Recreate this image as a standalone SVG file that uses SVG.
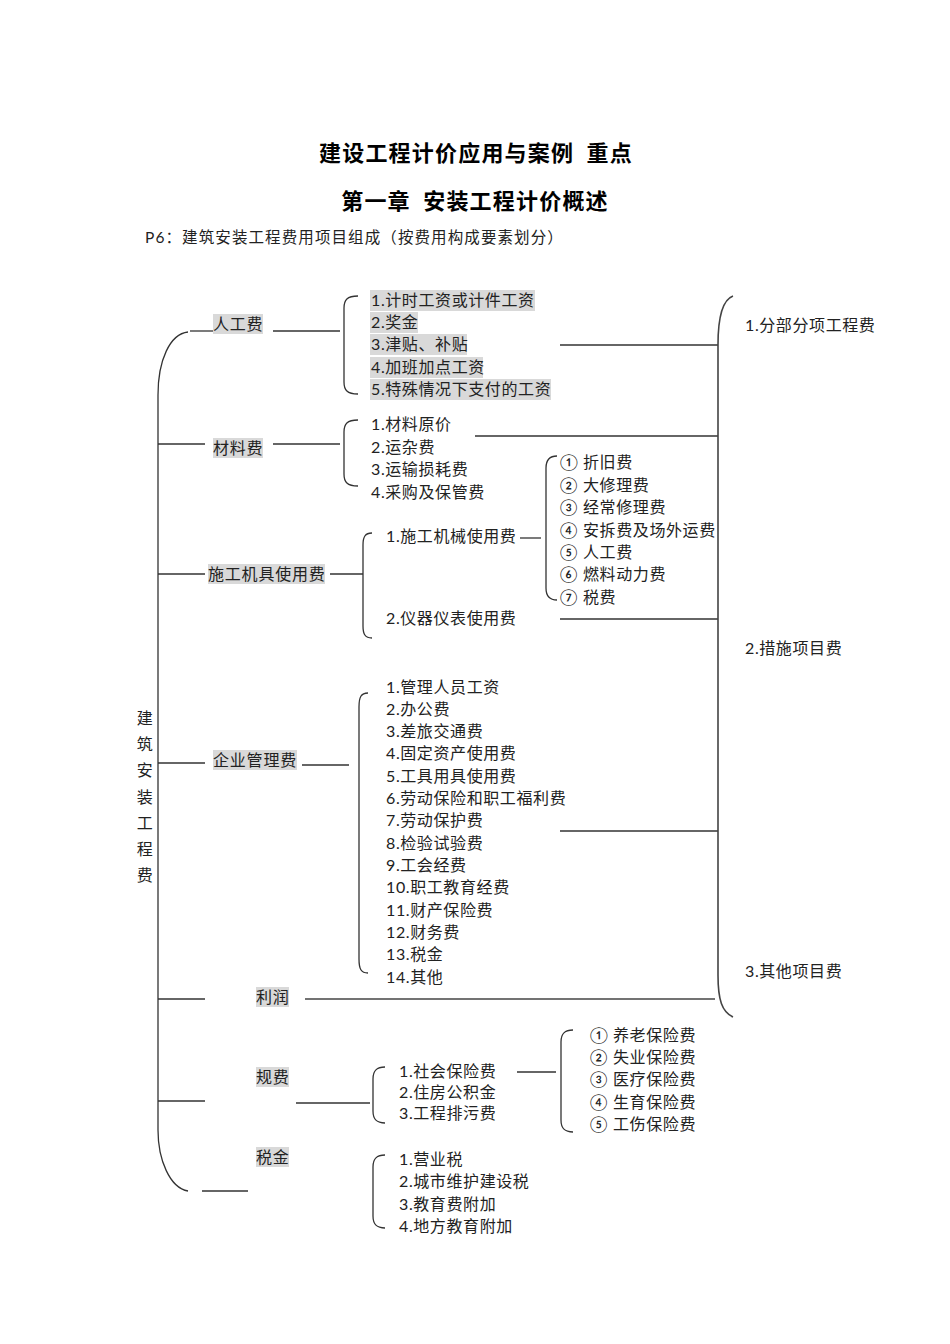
<svg xmlns="http://www.w3.org/2000/svg" width="950" height="1344" viewBox="0 0 950 1344">
<style>
.t{font-family:Lato,"Noto Sans CJK SC",sans-serif;font-size:16px;fill:#222;letter-spacing:0.6px}
.lb{font-family:Lato,"Noto Sans CJK SC",sans-serif;font-size:16px;fill:#222;letter-spacing:0.8px}
.h{font-family:"Noto Sans CJK SC",sans-serif;font-size:22px;font-weight:700;fill:#000;letter-spacing:1.2px}
.sub{font-family:Lato,"Noto Sans CJK SC",sans-serif;font-size:15.5px;fill:#222;letter-spacing:1.1px}
.hl{fill:#d9d9d9}
.ln{stroke:#333;stroke-width:1.3;fill:none}
.bl{stroke:#444;stroke-width:1.6;fill:none}
</style>
<rect width="950" height="1344" fill="#fff"/>
<g id="titles">
<text class="h" x="476" y="161" text-anchor="middle">建设工程计价应用与案例&#160;&#160;重点</text>
<text class="h" x="475" y="209" text-anchor="middle">第一章&#160;&#160;安装工程计价概述</text>
<text class="sub" x="145" y="243">P6：建筑安装工程费用项目组成（按费用构成要素划分）</text>
</g>
<g id="root">
<text class="t" x="145" text-anchor="middle"><tspan x="145" y="724">建</tspan><tspan x="145" y="750">筑</tspan><tspan x="145" y="776">安</tspan><tspan x="145" y="803">装</tspan><tspan x="145" y="829">工</tspan><tspan x="145" y="855">程</tspan><tspan x="145" y="881">费</tspan></text>
</g>
<g id="connectors">
<path class="ln" d="M188,332 C170,334 158,360 158,395 L158,1130 C158,1160 170,1188 188,1191"/>
<line class="ln" x1="190" y1="331" x2="213" y2="331"/>
<line class="ln" x1="273" y1="331" x2="340" y2="331"/>
<line class="ln" x1="158" y1="444" x2="205" y2="444"/>
<line class="ln" x1="273" y1="444" x2="340" y2="444"/>
<line class="ln" x1="158" y1="574" x2="205" y2="574"/>
<line class="ln" x1="330" y1="574" x2="363" y2="574"/>
<line class="ln" x1="158" y1="763" x2="205" y2="763"/>
<line class="ln" x1="302" y1="765" x2="349" y2="765"/>
<line class="ln" x1="158" y1="999" x2="205" y2="999"/>
<line class="bl" x1="305" y1="999" x2="715" y2="999"/>
<line class="ln" x1="158" y1="1101" x2="205" y2="1101"/>
<line class="ln" x1="296" y1="1103" x2="370" y2="1103"/>
<line class="ln" x1="202" y1="1191" x2="248" y2="1191"/>
<line class="ln" x1="520" y1="538" x2="541" y2="538"/>
<line class="ln" x1="517" y1="1072" x2="556" y2="1072"/>
<line class="ln" x1="560" y1="345" x2="718" y2="345"/>
<line class="ln" x1="475" y1="436" x2="718" y2="436"/>
<line class="ln" x1="560" y1="619" x2="718" y2="619"/>
<line class="ln" x1="560" y1="831" x2="718" y2="831"/>
<path class="bl" d="M733,296 C722,300 718,320 718,345 L718,975 C718,1000 722,1012 733,1017"/>
<path class="ln" d="M358,296 C347,296 344,300 344,308 L344,382 C344,390 347,394 358,394"/>
<path class="ln" d="M358,420 C347,420 344,424 344,432 L344,474 C344,482 347,486 358,486"/>
<path class="ln" d="M372,533 C365,533 363,537 363,545 L363,626 C363,634 365,638 372,638"/>
<path class="ln" d="M557,456 C549,456 546,460 546,468 L546,588 C546,596 549,600 557,600"/>
<path class="ln" d="M368,693 C361,693 359,697 359,707 L359,959 C359,969 361,973 368,973"/>
<path class="ln" d="M385,1067 C376,1067 373,1071 373,1079 L373,1111 C373,1119 376,1123 385,1123"/>
<path class="ln" d="M573,1030 C564,1030 561,1034 561,1042 L561,1120 C561,1128 564,1132 573,1132"/>
<path class="ln" d="M385,1155 C376,1155 373,1159 373,1167 L373,1216 C373,1224 376,1228 385,1228"/>
</g>
<g id="labor">
<rect class="hl" x="213" y="314" width="50" height="20"/>
<text class="lb" x="213" y="330">人工费</text>
<rect class="hl" x="370" y="290" width="165" height="21"/>
<rect class="hl" x="370" y="312" width="48" height="21"/>
<rect class="hl" x="370" y="334" width="97" height="21"/>
<rect class="hl" x="370" y="357" width="113" height="21"/>
<rect class="hl" x="370" y="379" width="181" height="21"/>
<text class="t" x="371" y="306">1.计时工资或计件工资</text>
<text class="t" x="371" y="328">2.奖金</text>
<text class="t" x="371" y="350">3.津贴、补贴</text>
<text class="t" x="371" y="373">4.加班加点工资</text>
<text class="t" x="371" y="395">5.特殊情况下支付的工资</text>
</g>
<g id="material">
<rect class="hl" x="213" y="438" width="50" height="20"/>
<text class="lb" x="213" y="454">材料费</text>
<text class="t" x="371" y="430">1.材料原价</text>
<text class="t" x="371" y="453">2.运杂费</text>
<text class="t" x="371" y="475">3.运输损耗费</text>
<text class="t" x="371" y="498">4.采购及保管费</text>
</g>
<g id="machinery">
<rect class="hl" x="208" y="564" width="117" height="20"/>
<text class="lb" x="208" y="580">施工机具使用费</text>
<text class="t" x="386" y="542">1.施工机械使用费</text>
<text class="t" x="386" y="624">2.仪器仪表使用费</text>
</g>
<g id="machine-items">
<text class="t" y="468"><tspan x="560">①</tspan><tspan x="583">折旧费</tspan></text>
<text class="t" y="491"><tspan x="560">②</tspan><tspan x="583">大修理费</tspan></text>
<text class="t" y="513"><tspan x="560">③</tspan><tspan x="583">经常修理费</tspan></text>
<text class="t" y="536"><tspan x="560">④</tspan><tspan x="583">安拆费及场外运费</tspan></text>
<text class="t" y="558"><tspan x="560">⑤</tspan><tspan x="583">人工费</tspan></text>
<text class="t" y="580"><tspan x="560">⑥</tspan><tspan x="583">燃料动力费</tspan></text>
<text class="t" y="603"><tspan x="560">⑦</tspan><tspan x="583">税费</tspan></text>
</g>
<g id="management">
<rect class="hl" x="213" y="750" width="84" height="20"/>
<text class="lb" x="213" y="766">企业管理费</text>
<text class="t" x="386" y="693">1.管理人员工资</text>
<text class="t" x="386" y="715">2.办公费</text>
<text class="t" x="386" y="737">3.差旅交通费</text>
<text class="t" x="386" y="759">4.固定资产使用费</text>
<text class="t" x="386" y="782">5.工具用具使用费</text>
<text class="t" x="386" y="804">6.劳动保险和职工福利费</text>
<text class="t" x="386" y="826">7.劳动保护费</text>
<text class="t" x="386" y="849">8.检验试验费</text>
<text class="t" x="386" y="871">9.工会经费</text>
<text class="t" x="386" y="893">10.职工教育经费</text>
<text class="t" x="386" y="916">11.财产保险费</text>
<text class="t" x="386" y="938">12.财务费</text>
<text class="t" x="386" y="960">13.税金</text>
<text class="t" x="386" y="983">14.其他</text>
</g>
<g id="profit">
<rect class="hl" x="256" y="987" width="33" height="20"/>
<text class="lb" x="256" y="1003">利润</text>
</g>
<g id="fees">
<rect class="hl" x="256" y="1067" width="33" height="20"/>
<text class="lb" x="256" y="1083">规费</text>
<text class="t" x="399" y="1077">1.社会保险费</text>
<text class="t" x="399" y="1098">2.住房公积金</text>
<text class="t" x="399" y="1119">3.工程排污费</text>
</g>
<g id="insurance-items">
<text class="t" y="1041"><tspan x="590">①</tspan><tspan x="613">养老保险费</tspan></text>
<text class="t" y="1063"><tspan x="590">②</tspan><tspan x="613">失业保险费</tspan></text>
<text class="t" y="1085"><tspan x="590">③</tspan><tspan x="613">医疗保险费</tspan></text>
<text class="t" y="1108"><tspan x="590">④</tspan><tspan x="613">生育保险费</tspan></text>
<text class="t" y="1130"><tspan x="590">⑤</tspan><tspan x="613">工伤保险费</tspan></text>
</g>
<g id="tax">
<rect class="hl" x="256" y="1147" width="33" height="20"/>
<text class="lb" x="256" y="1163">税金</text>
<text class="t" x="399" y="1165">1.营业税</text>
<text class="t" x="399" y="1187">2.城市维护建设税</text>
<text class="t" x="399" y="1210">3.教育费附加</text>
<text class="t" x="399" y="1232">4.地方教育附加</text>
</g>
<g id="project-categories">
<text class="t" x="745" y="331">1.分部分项工程费</text>
<text class="t" x="745" y="654">2.措施项目费</text>
<text class="t" x="745" y="977">3.其他项目费</text>
</g>
</svg>
